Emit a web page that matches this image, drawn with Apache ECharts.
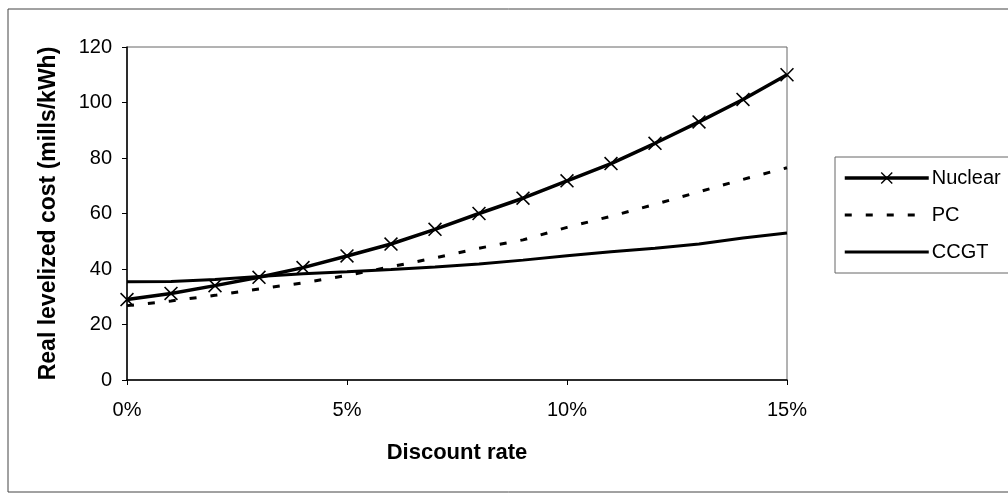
<!DOCTYPE html>
<html>
<head>
<meta charset="utf-8">
<script src="https://cdn.jsdelivr.net/npm/echarts@6/dist/echarts.min.js"></script>
<style>
html,body{margin:0;padding:0;background:#fff;}
#chart{width:1008px;height:497px;}
</style>
</head>
<body>
<div id="chart"></div>
<script>
var rates = [0,1,2,3,4,5,6,7,8,9,10,11,12,13,14,15];
var nuclear = [29, 31.2, 34, 37, 40.5, 44.7, 49, 54.3, 60, 65.5, 71.8, 78, 85.3, 93, 101.1, 110];
var pc = [26.8, 28.5, 30.5, 32.8, 35, 37.7, 40.8, 44, 47.5, 50.5, 55, 59, 63.3, 67.8, 72.3, 76.5];
var ccgt = [35.4, 35.5, 36.2, 37.3, 38.3, 39, 39.8, 40.7, 41.8, 43.2, 44.8, 46.2, 47.5, 49, 51.2, 53];
var seriesNames = ['Nuclear', 'PC', 'CCGT'];
var yTitle = 'Real levelized cost (mills/kWh)';
var xTitle = 'Discount rate';

function pairs(vals){ return rates.map(function(r,i){ return [r, vals[i]]; }); }

var FONT = '"Liberation Sans", Arial, Helvetica, sans-serif';
var xMark = 'path://M0,0.8L0.8,0L5,4.2L9.2,0L10,0.8L5.8,5L10,9.2L9.2,10L5,5.8L0.8,10L0,9.2L4.2,5Z';

var chart = echarts.init(document.getElementById('chart'), null, {renderer:'canvas'});
chart.setOption({
  animation:false,
  backgroundColor:'#fff',
  textStyle:{fontFamily:FONT, color:'#000'},
  grid:{left:127, right:221, top:47, bottom:117, show:true, borderColor:'#666', borderWidth:1, backgroundColor:'transparent'},
  xAxis:{
    type:'value', min:0, max:15, interval:5,
    name:xTitle, nameLocation:'middle', nameGap:62,
    nameTextStyle:{fontFamily:FONT, fontSize:22, fontWeight:'bold', color:'#000'},
    axisLine:{show:true, onZero:false, lineStyle:{color:'#000', width:1.5}},
    axisTick:{show:true, inside:false, length:5, lineStyle:{color:'#000', width:1}},
    axisLabel:{formatter:'{value}%', fontFamily:FONT, fontSize:20, color:'#000', margin:20},
    splitLine:{show:false}
  },
  yAxis:{
    type:'value', min:0, max:120, interval:20,
    name:yTitle, nameLocation:'middle', nameGap:67,
    nameTextStyle:{fontFamily:FONT, fontSize:23, fontWeight:'bold', color:'#000'},
    axisLine:{show:true, lineStyle:{color:'#000', width:1.5}},
    axisTick:{show:true, inside:false, length:5, lineStyle:{color:'#000', width:1}},
    axisLabel:{fontFamily:FONT, fontSize:20, color:'#000', margin:15},
    splitLine:{show:false}
  },
  legend:{
    orient:'vertical', left:843, top:168, padding:0,
    itemWidth:84, itemHeight:15, itemGap:17,
    textStyle:{fontFamily:FONT, fontSize:20, color:'#000', padding:[0,0,0,-2]},
    data:[
      {name:seriesNames[0], lineStyle:{width:3.5}},
      {name:seriesNames[1], lineStyle:{width:3}, itemStyle:{opacity:0}},
      {name:seriesNames[2], lineStyle:{width:3}, itemStyle:{opacity:0}}
    ]
  },
  graphic:[
    {type:'rect', silent:true, shape:{x:8, y:9, width:1100, height:483}, style:{fill:'none', stroke:'#444', lineWidth:1}},
    {type:'rect', silent:true, shape:{x:835, y:157, width:200, height:116}, style:{fill:'none', stroke:'#666', lineWidth:1}}
  ],
  series:[
    {name:seriesNames[0], type:'line', data:pairs(nuclear), symbol:xMark, symbolSize:14, showSymbol:true,
      lineStyle:{color:'#000', width:3.5}, itemStyle:{color:'#000'}},
    {name:seriesNames[1], type:'line', data:pairs(pc), symbol:'none',
      lineStyle:{color:'#000', width:3, type:[7,14]}, itemStyle:{color:'#000'}},
    {name:seriesNames[2], type:'line', data:pairs(ccgt), symbol:'none',
      lineStyle:{color:'#000', width:3}, itemStyle:{color:'#000'}}
  ]
});
</script>
</body>
</html>
